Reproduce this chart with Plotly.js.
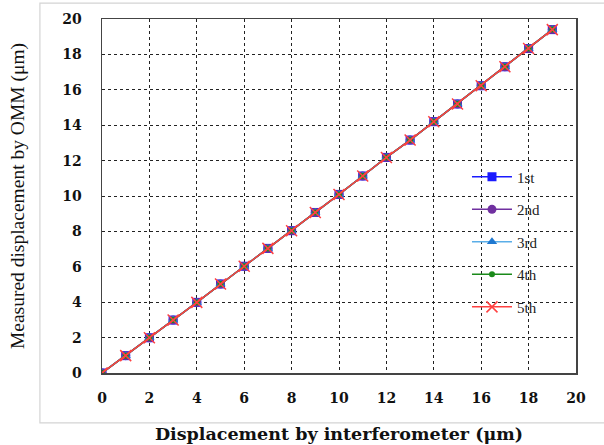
<!DOCTYPE html>
<html>
<head>
<meta charset="utf-8">
<script src="https://cdn.plot.ly/plotly-3.0.1.min.js"></script>
<style>html,body{margin:0;padding:0;background:#fff;}#chart{width:604px;height:445px;}</style>
</head>
<body>
<div id="chart"></div>
<script>
const xValues = [0,1,2,3,4,5,6,7,8,9,10,11,12,13,14,15,16,17,18,19];
const run1 = [0,0.98,1.99,2.99,3.99,5.03,6.03,7.04,8.04,9.07,10.09,11.13,12.18,13.16,14.2,15.2,16.23,17.3,18.33,19.4];
const run2 = [0,0.98,1.99,2.99,3.99,5.03,6.03,7.04,8.04,9.07,10.09,11.13,12.18,13.16,14.2,15.2,16.23,17.3,18.33,19.4];
const run3 = [0,0.98,1.99,2.99,3.99,5.03,6.03,7.04,8.04,9.07,10.09,11.13,12.18,13.16,14.2,15.2,16.23,17.3,18.33,19.4];
const run4 = [0,0.98,1.99,2.99,3.99,5.03,6.03,7.04,8.04,9.07,10.09,11.13,12.18,13.16,14.2,15.2,16.23,17.3,18.33,19.4];
const run5 = [0,0.98,1.99,2.99,3.99,5.03,6.03,7.04,8.04,9.07,10.09,11.13,12.18,13.16,14.2,15.2,16.23,17.3,18.33,19.4];
const seriesNames = ['1st','2nd','3rd','4th','5th'];
const xTicks = [0,2,4,6,8,10,12,14,16,18,20];
const yTicks = [0,2,4,6,8,10,12,14,16,18,20];

const styles = [
  {color:'#1a1aff', symbol:'square', size:9},
  {color:'#7030a0', symbol:'circle', size:9},
  {color:'#1f78d0', lineColor:'#5aaee8', symbol:'triangle-up', size:9},
  {color:'#1a8a1a', symbol:'circle', size:6},
  {color:'#ff4040', symbol:'x-thin-open', size:11}
];
const data = [run1, run2, run3, run4, run5].map((ys, i) => ({
  x: xValues, y: ys, name: seriesNames[i], type: 'scatter', mode: 'lines+markers',
  legendgroup: 'g' + i,
  line: {color: styles[i].lineColor || styles[i].color, width: 1.5},
  marker: {color: styles[i].color, symbol: styles[i].symbol, size: styles[i].size,
           line: {color: styles[i].color, width: i === 4 ? 1.5 : 0}}
}));

const tickFont = {family: '"DejaVu Serif", "Liberation Serif", serif', size: 14, weight: 'bold', color: '#111'};
const layout = {
  width: 604, height: 445,
  margin: {l: 102, r: 28, t: 19, b: 72},
  paper_bgcolor: '#fff', plot_bgcolor: '#fff',
  showlegend: true,
  legend: {x: 0.77, y: 0.60, xanchor: 'left', yanchor: 'top', bgcolor: 'rgba(0,0,0,0)',
           traceorder: 'grouped', tracegroupgap: 10, itemwidth: 40,
           font: {family: '"Liberation Serif", serif', size: 15, color: '#222'}},
  xaxis: {range: [0, 20], tickvals: xTicks, ticktext: xTicks.map(String),
          showgrid: true, gridcolor: '#222', griddash: 'dot', gridwidth: 1,
          showline: true, linecolor: '#444', linewidth: 1.5, mirror: true,
          ticks: '', zeroline: false, ticklabelstandoff: 12,
          tickfont: tickFont,
          title: {text: 'Displacement by interferometer (μm)', standoff: 22,
                  font: {family: '"DejaVu Serif", serif', size: 17.5, weight: 'bold', color: '#111'}}},
  yaxis: {range: [0, 20], tickvals: yTicks, ticktext: yTicks.map(String),
          showgrid: true, gridcolor: '#222', griddash: 'dot', gridwidth: 1,
          showline: true, linecolor: '#444', linewidth: 1.5, mirror: true,
          ticks: '', zeroline: false, ticklabelstandoff: 16,
          tickfont: tickFont,
          title: {text: 'Measured displacement by OMM (μm)', standoff: 32,
                  font: {family: '"Liberation Serif", serif', size: 19.5, color: '#111'}}},
  shapes: [{type: 'rect', xref: 'paper', yref: 'paper', x0: -0.131, x1: 1.1, y0: -0.141, y1: 1.045,
            line: {color: '#d4d4d4', width: 1.2}, fillcolor: 'rgba(0,0,0,0)', layer: 'below'}]
};
Plotly.newPlot('chart', data, layout, {staticPlot: true, displayModeBar: false});
</script>
</body>
</html>
